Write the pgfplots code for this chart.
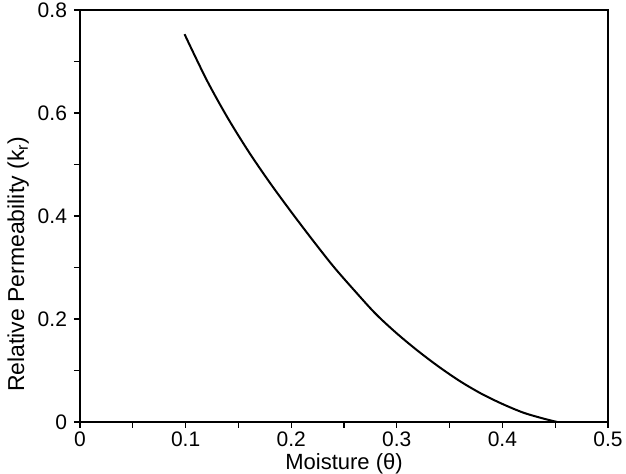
\documentclass[border=0pt]{standalone}
\usepackage{fontspec}
\setmainfont{Liberation Sans}
\usepackage{pgfplots}
\pgfplotsset{compat=1.18}
\usetikzlibrary{calc}

\begin{document}
\begin{tikzpicture}
\begin{axis}[scale only axis,width=264pt,height=206pt,
  xmin=0,xmax=0.5,ymin=0,ymax=0.8,
  xtick={0,0.1,...,0.5},ytick={0,0.2,...,0.8},
  minor tick num=1,tick pos=left,tick align=outside,
  major tick length=3pt,minor tick length=3pt,
  axis line style={line width=0.7pt},
  every tick/.style={line width=0.6pt,black},
  /pgf/number format/assume math mode=true,
  /pgf/number format/fixed,/pgf/number format/precision=1,
  tick label style={font=\fontsize{10.5}{12}\selectfont},
  xticklabel style={yshift=1.5pt},
  label style={font=\fontsize{11.5}{13}\selectfont},
  xlabel={Moisture (θ)},
  ylabel={Relative Permeability (k\textsubscript{r})},
  xlabel style={yshift=3.5pt,font=\fontsize{11}{12}\selectfont},
  ylabel style={at={(ticklabel cs:0.383)},yshift=-2.5pt},
  clip=false]
\addplot[black,line width=1pt,smooth,tension=0.5] coordinates {
  (0.099,0.753)(0.12,0.664)(0.14,0.590)(0.16,0.524)(0.18,0.464)
  (0.20,0.408)(0.22,0.354)(0.24,0.302)(0.26,0.255)(0.28,0.210)
  (0.30,0.172)(0.32,0.138)(0.34,0.107)(0.36,0.079)(0.38,0.055)
  (0.40,0.035)(0.42,0.018)(0.44,0.006)(0.452,0.0)};
\coordinate (bl) at (rel axis cs:0,0);
\end{axis}
\pgfresetboundingbox
\path[use as bounding box] ($(bl)+(-40pt,-26pt)$) rectangle ($(bl)+(273pt,211pt)$);
\end{tikzpicture}
\end{document}
